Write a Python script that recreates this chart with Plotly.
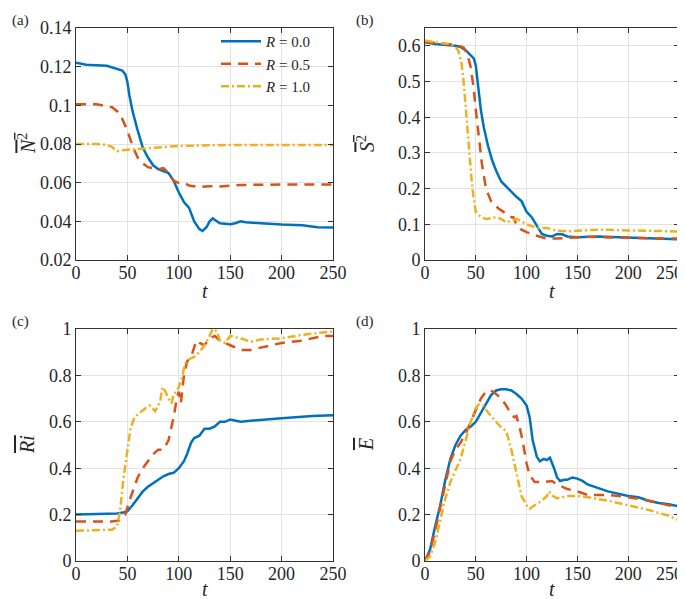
import plotly.graph_objects as go

# ---------------- data ----------------
# (a) mean N^2
ta_0 = [0,10,30,40,45,48,50,52,55,60,65,70,75,80,90,95,100,105,110,115,120,123,127,130,133,137,140,150,155,160,165,180,200,220,235,250]
Na_0 = [0.122,0.121,0.1205,0.119,0.118,0.116,0.112,0.105,0.097,0.087,0.078,0.073,0.069,0.067,0.065,0.061,0.055,0.050,0.047,0.040,0.036,0.035,0.037,0.040,0.0415,0.040,0.039,0.0385,0.039,0.040,0.0395,0.039,0.0383,0.038,0.037,0.0368]
ta_5 = [0,20,35,40,45,50,55,60,65,70,80,85,90,95,100,105,110,120,130,140,160,180,200,250]
Na_5 = [0.1005,0.1005,0.099,0.097,0.093,0.087,0.079,0.073,0.070,0.068,0.067,0.0675,0.065,0.061,0.0598,0.060,0.0585,0.0578,0.0582,0.058,0.0588,0.059,0.059,0.059]
ta_10 = [0,20,30,35,38,40,45,50,60,75,85,100,150,250]
Na_10 = [0.080,0.080,0.0795,0.0785,0.077,0.0763,0.0768,0.077,0.0775,0.078,0.0785,0.079,0.0795,0.0795]

# (b) mean S^2
tb_0 = [0,10,30,35,40,45,48,50,52,55,58,62,66,70,75,85,90,95,100,105,110,115,120,125,130,135,140,150,170,200,250]
Sb_0 = [0.61,0.605,0.60,0.597,0.588,0.575,0.565,0.545,0.50,0.42,0.37,0.32,0.28,0.25,0.22,0.19,0.177,0.165,0.135,0.12,0.095,0.073,0.068,0.066,0.073,0.072,0.066,0.064,0.066,0.063,0.058]
tb_5 = [0,30,38,42,45,48,50,53,56,60,65,72,80,85,87,90,95,100,110,120,130,140,160,200,250]
Sb_5 = [0.61,0.603,0.595,0.575,0.54,0.48,0.42,0.34,0.27,0.20,0.165,0.145,0.13,0.12,0.12,0.098,0.085,0.078,0.068,0.060,0.060,0.062,0.065,0.062,0.060]
tb_10 = [0,10,25,30,33,36,38,40,42,44,46,48,50,55,60,70,75,80,85,90,95,100,110,120,130,140,150,170,200,250]
Sb_10 = [0.615,0.61,0.605,0.598,0.585,0.55,0.50,0.43,0.35,0.28,0.22,0.17,0.135,0.12,0.115,0.12,0.115,0.105,0.11,0.115,0.108,0.10,0.09,0.09,0.082,0.08,0.082,0.085,0.083,0.08]

# (c) mean Ri
tc_0 = [0,30,40,47,50,55,60,65,70,75,80,85,90,95,100,105,108,112,115,120,125,130,135,140,145,150,160,170,200,230,250]
Rc_0 = [0.20,0.202,0.205,0.21,0.215,0.24,0.27,0.30,0.32,0.335,0.35,0.365,0.375,0.38,0.40,0.43,0.46,0.51,0.53,0.54,0.57,0.57,0.58,0.60,0.60,0.61,0.60,0.605,0.615,0.625,0.628]
tc_5 = [0,35,42,48,52,55,60,65,70,75,80,85,90,95,98,100,102,105,108,112,117,120,125,130,135,140,150,160,170,180,200,220,240,250]
Rc_5 = [0.17,0.17,0.175,0.20,0.26,0.30,0.36,0.40,0.43,0.46,0.48,0.48,0.52,0.62,0.70,0.73,0.68,0.80,0.86,0.88,0.95,0.94,0.93,0.96,0.97,0.95,0.93,0.91,0.91,0.92,0.94,0.95,0.97,0.97]
tc_10 = [0,35,40,43,46,50,53,57,62,68,72,77,82,84,87,90,93,95,98,100,103,106,110,115,120,125,130,133,137,140,145,150,160,170,180,200,220,240,250]
Rc_10 = [0.13,0.135,0.15,0.22,0.35,0.48,0.57,0.62,0.64,0.66,0.67,0.645,0.69,0.75,0.73,0.70,0.68,0.72,0.73,0.75,0.79,0.85,0.87,0.88,0.90,0.93,0.97,1.0,0.99,0.95,0.94,0.97,0.96,0.945,0.955,0.96,0.975,0.985,0.99]

# (d) mean E
td_0 = [0,5,10,15,20,25,30,35,40,45,50,55,60,65,70,75,80,85,90,95,100,103,106,110,113,117,120,123,127,130,133,137,140,145,150,155,160,170,180,200,210,220,230,240,250]
Ed_0 = [0,0.05,0.15,0.24,0.35,0.44,0.50,0.54,0.565,0.58,0.60,0.64,0.68,0.715,0.735,0.74,0.74,0.735,0.72,0.70,0.67,0.62,0.52,0.45,0.43,0.44,0.435,0.445,0.40,0.36,0.345,0.35,0.35,0.36,0.355,0.345,0.33,0.315,0.30,0.28,0.275,0.26,0.25,0.245,0.235]
td_5 = [0,5,10,15,20,25,30,35,40,45,50,55,60,65,70,75,80,85,88,90,93,96,100,103,108,115,125,130,140,150,160,180,200,220,240,250]
Ed_5 = [0,0.04,0.13,0.23,0.34,0.43,0.48,0.51,0.55,0.60,0.65,0.70,0.73,0.735,0.72,0.70,0.67,0.63,0.62,0.625,0.58,0.52,0.42,0.37,0.34,0.34,0.345,0.33,0.31,0.30,0.285,0.285,0.275,0.26,0.24,0.23]
td_10 = [0,5,10,15,20,25,30,35,40,45,50,53,57,62,70,75,80,85,90,95,100,103,108,115,120,122,126,130,140,150,160,180,200,220,240,250]
Ed_10 = [0,0.02,0.08,0.18,0.27,0.34,0.39,0.44,0.52,0.60,0.66,0.675,0.67,0.64,0.60,0.575,0.56,0.48,0.38,0.28,0.24,0.225,0.24,0.26,0.28,0.30,0.28,0.27,0.28,0.28,0.275,0.26,0.24,0.22,0.195,0.175]

series_names = ["<i>R</i> = 0.0", "<i>R</i> = 0.5", "<i>R</i> = 1.0"]
x_ticks = [0, 50, 100, 150, 200, 250]
x_text = ["0", "50", "100", "150", "200", "250"]
ya_ticks = [0.02, 0.04, 0.06, 0.08, 0.10, 0.12, 0.14]
ya_text = ["0.02", "0.04", "0.06", "0.08", "0.1", "0.12", "0.14"]
yb_ticks = [0, 0.1, 0.2, 0.3, 0.4, 0.5, 0.6]
yb_text = ["0", "0.1", "0.2", "0.3", "0.4", "0.5", "0.6"]
ycd_ticks = [0, 0.2, 0.4, 0.6, 0.8, 1.0]
ycd_text = ["0", "0.2", "0.4", "0.6", "0.8", "1"]

# ---------------- style ----------------
colors = ["#0072BD", "#D95319", "#EDB120"]
dashes = ["solid", "10px,7px", "8px,3px,2px,3px"]
FONT = "Liberation Serif"
W, H = 685, 599

def px_x(p):
    return p / W

def px_y(p):
    return 1 - p / H

dom_left = [px_x(68), px_x(325)]
dom_right = [px_x(417), px_x(671)]
dom_top = [px_y(252), px_y(20)]
dom_bot = [px_y(553), px_y(321)]

fig = go.Figure()

panels = [
    (1, [(ta_0, Na_0), (ta_5, Na_5), (ta_10, Na_10)]),
    (2, [(tb_0, Sb_0), (tb_5, Sb_5), (tb_10, Sb_10)]),
    (3, [(tc_0, Rc_0), (tc_5, Rc_5), (tc_10, Rc_10)]),
    (4, [(td_0, Ed_0), (td_5, Ed_5), (td_10, Ed_10)]),
]
for idx, series in panels:
    ax = "" if idx == 1 else str(idx)
    for k, (tx, yv) in enumerate(series):
        fig.add_trace(go.Scatter(
            x=tx, y=yv, mode="lines", xaxis="x" + ax, yaxis="y" + ax,
            line=dict(color=colors[k], width=2.5, dash=dashes[k]),
            name=series_names[k], showlegend=(idx == 1)))

axis_common = dict(showline=True, mirror="ticks", ticks="inside", ticklen=5,
                   linecolor="#333333", linewidth=1, tickcolor="#333333",
                   showgrid=True, gridcolor="#e3e3e3", gridwidth=1, zeroline=False,
                   tickfont=dict(family=FONT, size=18, color="#262626"))

def xax(dom, anchor, right_panel=False):
    txt = list(x_text)
    if right_panel:
        txt[-1] = " "  # last label drawn slightly inward, as in the reference
    return dict(axis_common, domain=dom, anchor=anchor, range=[0, 250],
                tickmode="array", tickvals=x_ticks, ticktext=txt)

def yax(dom, anchor, rng, tv, tt):
    return dict(axis_common, domain=dom, anchor=anchor, range=rng,
                tickmode="array", tickvals=tv, ticktext=tt)

fig.update_layout(
    xaxis=xax(dom_left, "y"), yaxis=yax(dom_top, "x", [0.02, 0.14], ya_ticks, ya_text),
    xaxis2=xax(dom_right, "y2", True), yaxis2=yax(dom_top, "x2", [0, 0.65], yb_ticks, yb_text),
    xaxis3=xax(dom_left, "y3"), yaxis3=yax(dom_bot, "x3", [0, 1], ycd_ticks, ycd_text),
    xaxis4=xax(dom_right, "y4", True), yaxis4=yax(dom_bot, "x4", [0, 1], ycd_ticks, ycd_text),
)
try:
    for a in ["xaxis", "xaxis2", "xaxis3", "xaxis4"]:
        fig.layout[a].ticklabelstandoff = -4
except Exception:
    pass

ann = []
# panel labels
for lab, x, y in [("(a)", 2, 12), ("(b)", 346, 12), ("(c)", 2, 313), ("(d)", 346, 313)]:
    ann.append(dict(text=lab, x=px_x(x), y=px_y(y), xref="paper", yref="paper",
                    xanchor="left", yanchor="middle", showarrow=False,
                    font=dict(family=FONT, size=15, color="#262626")))
# last tick label of the right panels
for yc in [265, 566]:
    ann.append(dict(text=x_text[-1], x=px_x(661), y=px_y(yc), xref="paper", yref="paper",
                    xanchor="center", yanchor="middle", showarrow=False,
                    font=dict(family=FONT, size=18, color="#262626")))
# x titles
for xc, yc in [(197, 283), (544, 283), (197, 581), (544, 581)]:
    ann.append(dict(text="<i>t</i>", x=px_x(xc), y=px_y(yc), xref="paper", yref="paper",
                    xanchor="center", yanchor="middle", showarrow=False,
                    font=dict(family=FONT, size=20, color="#262626")))
# y titles
ov = "<span style='text-decoration:overline'>%s</span>"
ytitles = [
    (ov % "<i>N</i><sup>2</sup>", 19, 136),
    (ov % "<i>S</i><sup>2</sup>", 358, 136),
    (ov % "<i>Ri</i>", 19, 437),
    (ov % "<i>E</i>", 358, 437),
]
for txt, xc, yc in ytitles:
    ann.append(dict(text=txt, x=px_x(xc), y=px_y(yc), xref="paper", yref="paper",
                    xanchor="center", yanchor="middle", showarrow=False, textangle=-90,
                    font=dict(family=FONT, size=20, color="#262626")))

fig.update_layout(
    width=W, height=H, margin=dict(l=0, r=0, t=0, b=0, autoexpand=False),
    paper_bgcolor="white", plot_bgcolor="white",
    annotations=ann,
    legend=dict(x=px_x(208), y=px_y(17), xanchor="left", yanchor="top",
                bgcolor="rgba(0,0,0,0)", borderwidth=0,
                font=dict(family=FONT, size=15, color="#262626"),
                tracegroupgap=0, itemwidth=40),
)

fig.write_html("out.html")
